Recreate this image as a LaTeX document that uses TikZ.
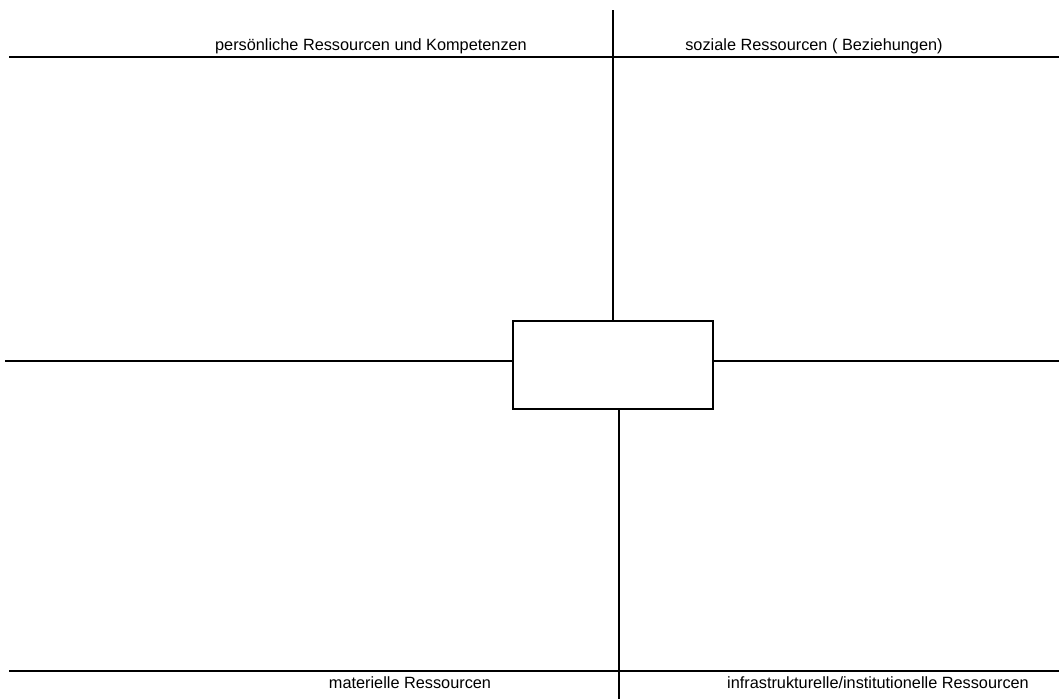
\documentclass[tikz,border=0pt]{standalone}
\usepackage{fontspec}
\setmainfont{Liberation Sans}
\begin{document}
\begin{tikzpicture}[x=1pt,y=-1pt,
  rule/.style={line width=1.6pt,black},
  lbl/.style={anchor=base,inner sep=0pt,font=\fontsize{16.3}{19}\selectfont},
  centerbox/.style={draw,line width=1.6pt,minimum width=200pt,minimum height=88pt,inner sep=0pt}]
\useasboundingbox (0,0) rectangle (1059,699);
% centre box
\node[centerbox] (box) at (613,365) {};
% free ends
\coordinate (tl) at (9,57);
\coordinate (tr) at (1059,57);
\coordinate (bl) at (9,671);
\coordinate (br) at (1059,671);
\coordinate (ml) at (5,361);
\coordinate (mr) at (1059,361);
\coordinate (vt) at (613,10);
\coordinate (vb) at (619,699);
% lines
\draw[rule] (tl) -- (tr);
\draw[rule] (bl) -- (br);
\draw[rule] (vt) -- (box.north);
\draw[rule] (vb) -- (vb |- box.south);
\draw[rule] (ml) -- (ml -| box.west);
\draw[rule] (mr) -- (mr -| box.east);
% labels
\node[lbl] (pers) at (371,50) {persönliche Ressourcen und Kompetenzen};
\node[lbl] (soz) at (814,50) {soziale Ressourcen ( Beziehungen)};
\node[lbl] (mat) at (410,688) {materielle Ressourcen};
\node[lbl] (infra) at (878,688) {infrastrukturelle/institutionelle Ressourcen};
\end{tikzpicture}
\end{document}
